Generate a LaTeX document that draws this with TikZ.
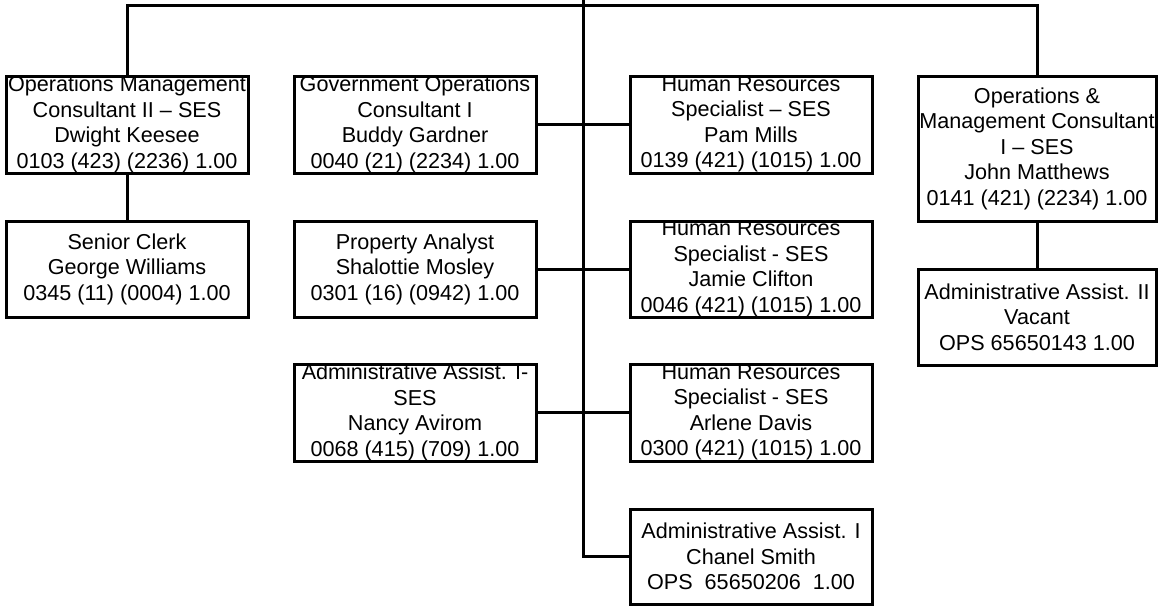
\documentclass[tikz,border=0pt]{standalone}
\usepackage{fontspec}
\setmainfont{Liberation Sans}
\begin{document}
\begin{tikzpicture}[x=1pt,y=-1pt,
  post/.style={draw, line width=3pt, inner sep=0pt, align=center,
    font=\fontsize{21.6}{25.5}\selectfont},
  narrow/.style={minimum width=242pt},
  wide/.style={minimum width=238pt},
  link/.style={draw, line width=3pt, line join=miter}]
\useasboundingbox (0,0) rectangle (1158,605);

% first row
\node[post, narrow, minimum height=97pt] (ops) at (127,124.5)
  {Operations Management\\Consultant II – SES\\Dwight Keesee\\0103 (423) (2236) 1.00};
\node[post, narrow, minimum height=97pt] (gov) at (415,124.5)
  {Government Operations\\Consultant I\\Buddy Gardner\\0040 (21) (2234) 1.00};
\node[post, narrow, minimum height=97pt] (hrA) at (751,124.5)
  {Human Resources\\Specialist – SES\\Pam Mills\\0139 (421) (1015) 1.00};
\node[post, wide, minimum height=145pt] (omc) at (1037,148.5)
  {Operations \&\\Management Consultant\\I – SES\\John Matthews\\0141 (421) (2234) 1.00};

% second row
\node[post, narrow, minimum height=96pt] (clerk) at (127,269)
  {Senior Clerk\\George Williams\\0345 (11) (0004) 1.00};
\node[post, narrow, minimum height=96pt] (prop) at (415,269)
  {Property Analyst\\Shalottie Mosley\\0301 (16) (0942) 1.00};
\node[post, narrow, minimum height=96pt] (hrB) at (751,269)
  {Human Resources\\Specialist - SES\\Jamie Clifton\\0046 (421) (1015) 1.00};
\node[post, wide, minimum height=96pt] (aa2) at (1037,317)
  {Administrative Assist. II\\Vacant\\OPS 65650143 1.00};

% third row
\node[post, narrow, minimum height=97pt] (aa1s) at (415,412.5)
  {Administrative Assist. I-\\SES\\Nancy Avirom\\0068 (415) (709) 1.00};
\node[post, narrow, minimum height=97pt] (hrC) at (751,412.5)
  {Human Resources\\Specialist - SES\\Arlene Davis\\0300 (421) (1015) 1.00};

% bottom
\node[post, narrow, minimum height=95pt] (aa1) at (751,556.5)
  {Administrative Assist. I\\Chanel Smith\\OPS~~65650206~~1.00};

% trunk and top bar
\coordinate (top) at (583,0);
\coordinate (bar) at (583,5);
\draw[link] (top) |- (aa1.west);
\draw[link] (ops.north) -- (ops.north |- bar) -- (omc.north |- bar) -- (omc.north);

% branches
\draw[link] (gov.east) -- (hrA.west);
\draw[link] (prop.east) -- (hrB.west);
\draw[link] (aa1s.east) -- (hrC.west);
\draw[link] (ops.south) -- (clerk.north);
\draw[link] (omc.south) -- (aa2.north);
\end{tikzpicture}
\end{document}
